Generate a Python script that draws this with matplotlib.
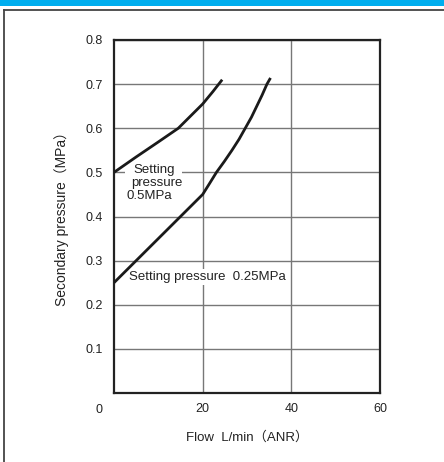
import matplotlib
matplotlib.use("Agg")
import matplotlib.pyplot as plt
from matplotlib.lines import Line2D
from matplotlib.patches import Rectangle

plt.rcParams['font.family'] = ['Liberation Sans', 'DejaVu Sans']

# Data
flow_05 = [0, 5, 10, 14.5, 17, 20, 22.3, 24.4]
pres_05 = [0.5, 0.535, 0.569, 0.6, 0.625, 0.655, 0.683, 0.71]
flow_025 = [0, 10, 20, 21.5, 23.1, 24.9, 26.6, 28.2, 29.6, 31.0, 32.2, 33.4, 34.5, 35.3]
pres_025 = [0.25, 0.35, 0.45, 0.474, 0.5, 0.525, 0.55, 0.575, 0.6, 0.625, 0.65, 0.675, 0.7, 0.714]
x_ticks = [20, 40, 60]
y_ticks = [0.1, 0.2, 0.3, 0.4, 0.5, 0.6, 0.7, 0.8]
y_ticklabels = ["0.1", "0.2", "0.3", "0.4", "0.5", "0.6", "0.7", "0.8"]

W, H = 444, 462
fig = plt.figure(figsize=(W / 100, H / 100), dpi=100)
fig.patch.set_facecolor("white")

# Blue header bar and frame
fig.patches.append(Rectangle((0, 1 - 6 / H), 1, 6 / H, transform=fig.transFigure,
                             facecolor="#00aeef", edgecolor="none"))
fig.lines.append(Line2D([4 / W, 4 / W], [0, 1 - 10 / H], transform=fig.transFigure,
                        color="#444444", lw=1.3))
fig.lines.append(Line2D([4 / W, 1], [1 - 10 / H, 1 - 10 / H], transform=fig.transFigure,
                        color="#444444", lw=1.3))

ax = fig.add_axes([114 / W, 1 - 393 / H, (380 - 114) / W, (393 - 40) / H])
ax.set_xlim(0, 60)
ax.set_ylim(0, 0.8)
ax.set_xticks(x_ticks)
ax.set_yticks(y_ticks)
ax.set_yticklabels(y_ticklabels)
ax.tick_params(length=0, labelsize=9, pad=8, colors="#222222")
ax.tick_params(axis="x", pad=7)
ax.grid(True, color="#777777", lw=1.0)
for s in ax.spines.values():
    s.set_linewidth(1.6)
    s.set_color("#222222")

ax.plot(flow_05, pres_05, color="#1a1a1a", lw=2.0, solid_capstyle="butt", zorder=5)
ax.plot(flow_025, pres_025, color="#1a1a1a", lw=2.0, solid_capstyle="butt", zorder=5)

ax.text(-0.055, -0.03, "0", transform=ax.transAxes, ha="center", va="top",
        fontsize=9, color="#222222")

# white gap in the 0.5 gridline behind the label
ax.add_patch(Rectangle((2.5, 0.49), 12.8, 0.02, facecolor="white", edgecolor="none",
                       zorder=2))
ax.text(9.0, 0.505, "Setting", ha="center", va="center", fontsize=9.5,
        color="#222222", zorder=4)
ax.text(9.7, 0.476, "pressure", ha="center", va="center", fontsize=9.5,
        color="#222222", zorder=4)
ax.text(2.9, 0.4465, "0.5MPa", ha="left", va="center", fontsize=9.5, color="#222222",
        zorder=4)
ax.text(3.4, 0.263, "Setting pressure  0.25MPa", ha="left", va="center", fontsize=9.5,
        color="#222222", bbox=dict(facecolor="white", edgecolor="none", pad=1.5), zorder=4)

fig.text(247 / W, 1 - 437 / H, "Flow  L/min\uff08ANR\uff09", ha="center", va="center",
         fontsize=9.5, color="#222222", family=["Liberation Sans", "Noto Sans CJK JP"])
fig.text(62 / W, 1 - 216 / H, "Secondary pressure\uff08MPa\uff09", ha="center", va="center",
         rotation=90, fontsize=10, color="#222222",
         family=["Liberation Sans", "Noto Sans CJK JP"])

fig.savefig("out.png", dpi=100, facecolor="white")
